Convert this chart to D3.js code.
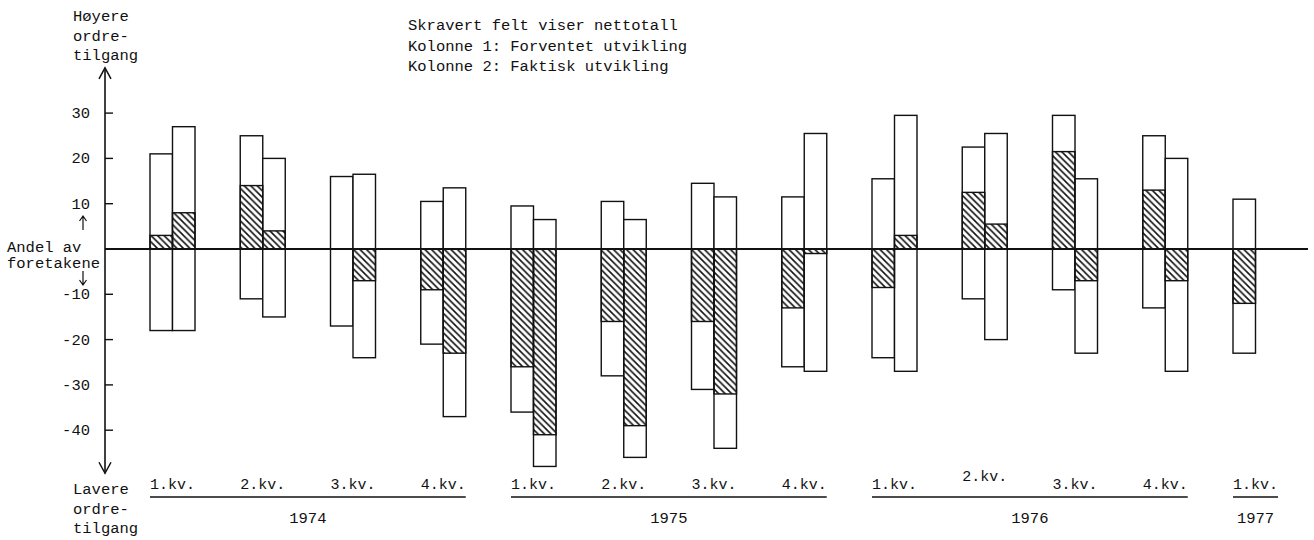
<!DOCTYPE html>
<html>
<head>
<meta charset="utf-8">
<script src="https://cdn.jsdelivr.net/npm/d3@7/dist/d3.min.js"></script>
<style>
  html, body { margin: 0; padding: 0; background: #fff; }
  svg { display: block; }
  text { font-family: "Liberation Mono", "DejaVu Sans Mono", monospace; fill: #111; }
</style>
</head>
<body>
<svg id="chart" width="1314" height="540"></svg>
<script>
// ---- Data ----
const quarters = ["1.kv.","2.kv.","3.kv.","4.kv.","1.kv.","2.kv.","3.kv.","4.kv.","1.kv.","2.kv.","3.kv.","4.kv.","1.kv."];
const years = ["1974","1975","1976","1977"];
const yearOfQuarter = [0,0,0,0,1,1,1,1,2,2,2,2,3];
// Kolonne 1: Forventet utvikling
const expHigh = [21, 25, 16, 10.5, 9.5, 10.5, 14.5, 11.5, 15.5, 22.5, 29.5, 25, 11];
const expLow  = [-18, -11, -17, -21, -36, -28, -31, -26, -24, -11, -9, -13, -23];
const expNet  = [3, 14, 0, -9, -26, -16, -16, -13, -8.5, 12.5, 21.5, 13, -12];
// Kolonne 2: Faktisk utvikling
const actHigh = [27, 20, 16.5, 13.5, 6.5, 6.5, 11.5, 25.5, 29.5, 25.5, 15.5, 20, null];
const actLow  = [-18, -15, -24, -37, -48, -46, -44, -27, -27, -20, -23, -27, null];
const actNet  = [8, 4, -7, -23, -41, -39, -32, -1, 3, 5.5, -7, -7, null];
const yTicks = [30, 20, 10, -10, -20, -30, -40];
const legendLines = ["Skravert felt viser nettotall", "Kolonne 1: Forventet utvikling", "Kolonne 2: Faktisk utvikling"];
const topLabel = ["Høyere", "ordre-", "tilgang"];
const bottomLabel = ["Lavere", "ordre-", "tilgang"];
const midLabel = ["Andel av", "foretakene"];

// ---- Layout ----
const svg = d3.select("#chart");
const axisX = 105;
const barW = 22.5;
const y = d3.scaleLinear().domain([-40, 30]).range([430.2, 113.1]);
const x = d3.scaleBand().domain(d3.range(quarters.length)).range([150, 150 + 90.25 * quarters.length]).padding(0);

const defs = svg.append("defs");
const pat = defs.append("pattern").attr("id", "hatch")
  .attr("patternUnits", "userSpaceOnUse").attr("width", 6.5).attr("height", 6.5);
pat.append("path").attr("d", "M0,0 L6.5,6.5 M-1,5.5 L1,7.5 M5.5,-1 L7.5,1")
  .attr("stroke", "#111").attr("stroke-width", 1.6).attr("fill", "none");

// bars
const cols = [];
quarters.forEach((q, i) => {
  cols.push({ i, k: 0, hi: expHigh[i], lo: expLow[i], net: expNet[i] });
  if (actHigh[i] !== null) cols.push({ i, k: 1, hi: actHigh[i], lo: actLow[i], net: actNet[i] });
});
const g = svg.append("g");
g.selectAll("rect.col").data(cols).join("rect").attr("class", "col")
  .attr("x", d => x(d.i) + d.k * barW)
  .attr("y", d => y(d.hi))
  .attr("width", barW)
  .attr("height", d => y(d.lo) - y(d.hi))
  .attr("fill", "#fff").attr("stroke", "#111").attr("stroke-width", 1.4);
g.selectAll("rect.net").data(cols.filter(d => d.net !== 0)).join("rect").attr("class", "net")
  .attr("x", d => x(d.i) + d.k * barW)
  .attr("y", d => y(Math.max(0, d.net)))
  .attr("width", barW)
  .attr("height", d => Math.abs(y(d.net) - y(0)))
  .attr("fill", "url(#hatch)").attr("stroke", "#111").attr("stroke-width", 1.4);

// zero line
svg.append("line").attr("x1", axisX).attr("x2", 1308).attr("y1", y(0)).attr("y2", y(0))
  .attr("stroke", "#111").attr("stroke-width", 2);

// vertical axis with arrows
const yTop = y(40), yBot = y(-49.5);
svg.append("line").attr("x1", axisX).attr("x2", axisX).attr("y1", yTop).attr("y2", yBot)
  .attr("stroke", "#111").attr("stroke-width", 1.6);
svg.append("path").attr("d", `M${axisX - 6},${yTop + 11} L${axisX},${yTop} L${axisX + 6},${yTop + 11}`)
  .attr("fill", "none").attr("stroke", "#111").attr("stroke-width", 1.5);
svg.append("path").attr("d", `M${axisX - 6},${yBot - 11} L${axisX},${yBot} L${axisX + 6},${yBot - 11}`)
  .attr("fill", "none").attr("stroke", "#111").attr("stroke-width", 1.5);

// ticks
const tg = svg.append("g").selectAll("g").data(yTicks).join("g");
tg.append("line").attr("x1", axisX).attr("x2", axisX + 8).attr("y1", d => y(d)).attr("y2", d => y(d))
  .attr("stroke", "#111").attr("stroke-width", 1.4);
tg.append("text").attr("x", 90).attr("y", d => y(d) + 5).attr("text-anchor", "end")
  .style("font-size", "15.5px").text(d => d);

// left labels
svg.append("g").selectAll("text").data(topLabel).join("text")
  .attr("x", 73).attr("y", (d, i) => 21 + i * 19.7).style("font-size", "15.5px").text(d => d);
svg.append("g").selectAll("text").data(bottomLabel).join("text")
  .attr("x", 73).attr("y", (d, i) => 494 + i * 19.5).style("font-size", "15.5px").text(d => d);
svg.append("g").selectAll("text").data(midLabel).join("text")
  .attr("x", 7).attr("y", (d, i) => 252 + i * 16).style("font-size", "15.5px").text(d => d);
// small arrows
svg.append("path").attr("d", "M83,230 L83,217 M79.5,221 L83,216 L86.5,221")
  .attr("fill", "none").attr("stroke", "#111").attr("stroke-width", 1.2);
svg.append("path").attr("d", "M83,271 L83,284 M79.5,280 L83,285 L86.5,280")
  .attr("fill", "none").attr("stroke", "#111").attr("stroke-width", 1.2);

// legend text
svg.append("g").selectAll("text").data(legendLines).join("text")
  .attr("x", 408).attr("y", (d, i) => 30 + i * 20.5).style("font-size", "15.5px").text(d => d);

// quarter labels
svg.append("g").selectAll("text").data(quarters).join("text")
  .attr("x", (d, i) => x(i) + barW)
  .attr("y", (d, i) => (i === 9 ? 481 : 488.5))
  .attr("text-anchor", "middle").style("font-size", "15px").text(d => d);

// year lines and labels
years.forEach((yr, k) => {
  const idx = d3.range(quarters.length).filter(i => yearOfQuarter[i] === k);
  const x0 = x(idx[0]), x1 = x(idx[idx.length - 1]) + 2 * barW;
  svg.append("line").attr("x1", x0).attr("x2", x1).attr("y1", 497).attr("y2", 497)
    .attr("stroke", "#111").attr("stroke-width", 1.5);
  svg.append("text").attr("x", (x0 + x1) / 2).attr("y", 523).attr("text-anchor", "middle")
    .style("font-size", "15.5px").text(yr);
});
</script>
</body>
</html>
